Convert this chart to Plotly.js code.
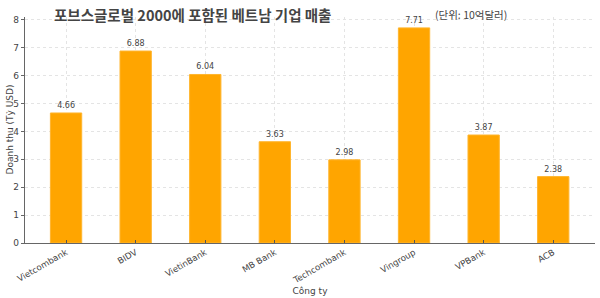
<!DOCTYPE html>
<html><head><meta charset="utf-8">
<script src="https://cdn.plot.ly/plotly-3.0.1.min.js"></script>
<style>body{margin:0;padding:0;background:#fff}#chart{width:600px;height:298px}</style>
</head><body><div id="chart"></div>
<script>
const companies = ["Vietcombank","BIDV","VietinBank","MB Bank","Techcombank","Vingroup","VPBank","ACB"];
const revenue = [4.66, 6.88, 6.04, 3.63, 2.98, 7.71, 3.87, 2.38];
const yTicks = [0,1,2,3,4,5,6,7,8];
const titleText = "포브스글로벌 2000에 포함된 베트남 기업 매출";
const unitText = "(단위: 10억달러)";
const xTitle = "Công ty";
const yTitle = "Doanh thu (Tỷ USD)";

const trace = {
  type: "bar", x: companies, y: revenue, width: 0.45,
  marker: {color: "#FFA500", line: {color: "#FFB52E", width: 1}},
  text: revenue.map(v => v.toFixed(2)), textposition: "outside",
  textfont: {family: "DejaVu Sans", size: 8, color: "#444"},
  cliponaxis: false, hoverinfo: "none"
};
const layout = {
  width: 600, height: 298,
  margin: {l: 25, r: 5, t: 17, b: 55},
  paper_bgcolor: "#fff", plot_bgcolor: "#fff",
  showlegend: false,
  font: {family: "DejaVu Sans", color: "#444"},
  xaxis: {
    range: [-0.59, 7.6], tickangle: -30,
    tickfont: {size: 8.6, color: "#444"},
    showgrid: true, gridcolor: "#e4e4e4", griddash: "dot", gridwidth: 1,
    showline: true, linecolor: "#666", linewidth: 1.2,
    ticks: "inside", ticklen: 3, tickcolor: "#555",
    title: {text: xTitle, font: {size: 9, color: "#444"}, standoff: 2},
    zeroline: false
  },
  yaxis: {
    range: [0, 8.1], tickvals: yTicks,
    tickfont: {size: 9, color: "#444"},
    showgrid: true, gridcolor: "#e4e4e4", griddash: "dot", gridwidth: 1,
    showline: true, linecolor: "#666", linewidth: 1.2,
    ticks: "outside", ticklen: 3, tickcolor: "#666",
    zeroline: false
  },
  annotations: [
    {xref: "paper", yref: "paper", x: (193-25)/570, y: 1 + (17-15)/226, xanchor: "center", yanchor: "middle",
     text: "<b>" + titleText + "</b>", showarrow: false,
     font: {family: "Noto Sans CJK KR", size: 14.5, color: "#444"}},
    {xref: "paper", yref: "paper", x: (471-25)/570, y: 1 + (17-15)/226, xanchor: "center", yanchor: "middle",
     text: unitText, showarrow: false,
     font: {family: "Noto Sans CJK KR", size: 10.5, color: "#444"}},
    {xref: "paper", yref: "paper", x: (9.5-25)/570, y: (243-130)/226, xanchor: "center", yanchor: "middle",
     text: yTitle, textangle: -90, showarrow: false,
     font: {family: "DejaVu Sans", size: 9, color: "#444"}}
  ]
};
Plotly.newPlot("chart", [trace], layout, {displayModeBar: false, staticPlot: true});
</script></body></html>
